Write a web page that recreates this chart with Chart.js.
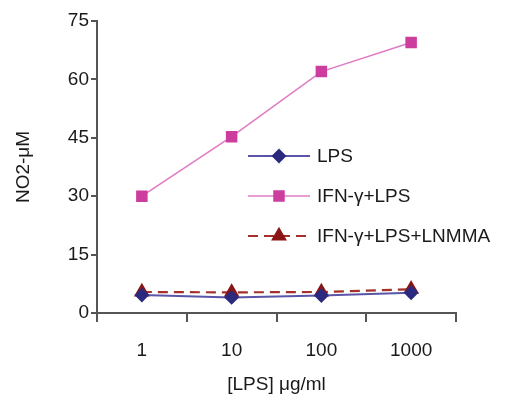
<!DOCTYPE html>
<html>
<head>
<meta charset="utf-8">
<script src="https://cdn.jsdelivr.net/npm/chart.js@4"></script>
<style>
  html, body { margin: 0; padding: 0; background: #fff; }
  #wrap { width: 511px; height: 400px; }
</style>
</head>
<body>
<div id="wrap"><canvas id="myChart" width="511" height="400"></canvas></div>
<script>
var doses = ['1', '10', '100', '1000'];
var yTicks = [0, 15, 30, 45, 60, 75];
var lps = [4.6, 4.0, 4.5, 5.2];
var ifnLps = [30.0, 45.3, 62.0, 69.5];
var ifnLpsLnmma = [5.4, 5.3, 5.4, 6.1];

var fontFam = '"Liberation Sans", Arial, sans-serif';
var fontSize = 19;

// legend drawn inside the plot: line with marker in the middle
var lineLegend = {
  id: 'lineLegend',
  afterDraw: function(chart) {
    var ctx = chart.ctx;
    var x0 = 248, x1 = 310, y0 = 156, gap = 40;
    chart.data.datasets.forEach(function(ds, i) {
      var y = y0 + i * gap;
      ctx.save();
      ctx.strokeStyle = ds.borderColor;
      ctx.lineWidth = ds.borderWidth;
      ctx.setLineDash(ds.borderDash || []);
      ctx.beginPath();
      ctx.moveTo(x0, y);
      ctx.lineTo(x1, y);
      ctx.stroke();
      ctx.setLineDash([]);
      ctx.fillStyle = ds.pointBackgroundColor;
      ctx.strokeStyle = ds.pointBorderColor;
      Chart.helpers.drawPoint(ctx, {
        pointStyle: ds.pointStyle,
        radius: ds.pointRadius,
        borderWidth: 1,
        rotation: 0
      }, (x0 + x1) / 2, y);
      ctx.fillStyle = '#1a1a1a';
      ctx.font = fontSize + 'px ' + fontFam;
      ctx.textBaseline = 'middle';
      ctx.fillText(ds.label, 317, y + 1);
      ctx.restore();
    });
  }
};

var ctx = document.getElementById('myChart').getContext('2d');

var chart = new Chart(ctx, {
  type: 'line',
  data: {
    labels: doses,
    datasets: [{
      label: 'LPS',
      data: lps,
      borderColor: '#5a55a8',
      borderWidth: 2,
      pointStyle: 'rectRot',
      pointRadius: 6,
      pointBackgroundColor: '#2b2a7e',
      pointBorderColor: '#2b2a7e'
    }, {
      label: 'IFN-γ+LPS',
      data: ifnLps,
      borderColor: '#e07cc4',
      borderWidth: 1.6,
      pointStyle: 'rect',
      pointRadius: 7,
      pointBackgroundColor: '#cc3d9e',
      pointBorderColor: '#cc3d9e'
    }, {
      label: 'IFN-γ+LPS+LNMMA',
      data: ifnLpsLnmma,
      borderColor: '#a3302a',
      borderWidth: 2.2,
      borderDash: [10, 6],
      pointStyle: 'triangle',
      pointRadius: 7,
      pointBackgroundColor: '#8a1515',
      pointBorderColor: '#8a1515'
    }]
  },
  options: {
    responsive: false,
    animation: false,
    layout: { padding: { top: 21, right: 55, left: 0, bottom: 0 } },
    plugins: {
      legend: { display: false },
      tooltip: { enabled: false }
    },
    scales: {
      x: {
        offset: true,
        grid: { offset: true, drawOnChartArea: false, tickLength: 9, color: '#555', lineWidth: 2 },
        border: { color: '#555', width: 2 },
        ticks: { color: '#1a1a1a', padding: 17, font: { family: fontFam, size: fontSize } },
        title: { display: true, text: '[LPS] μg/ml', color: '#1a1a1a', padding: { top: 13 }, font: { family: fontFam, size: fontSize } },
        afterFit: function(s) { s.height = 87; }
      },
      y: {
        min: 0,
        max: 75,
        afterBuildTicks: function(s) { s.ticks = yTicks.map(function(v) { return { value: v }; }); },
        grid: { drawOnChartArea: false, tickLength: 6, color: '#555', lineWidth: 2 },
        border: { color: '#555', width: 2 },
        ticks: { color: '#1a1a1a', padding: 2, font: { family: fontFam, size: fontSize } },
        title: { display: true, text: 'NO2-μM', color: '#1a1a1a', padding: { top: 12, bottom: 0 }, font: { family: fontFam, size: fontSize } },
        afterFit: function(s) { s.width = 97; }
      }
    }
  },
  plugins: [lineLegend]
});
</script>
</body>
</html>
